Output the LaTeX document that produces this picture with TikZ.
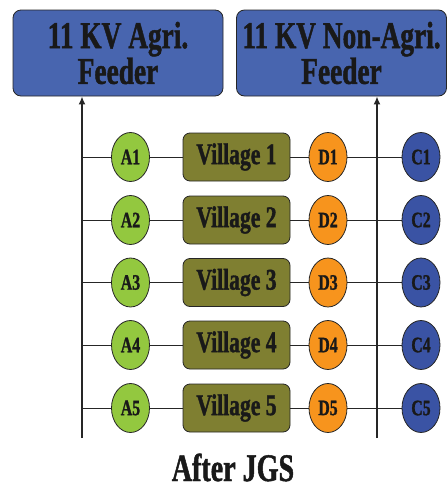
\documentclass[tikz,border=0pt]{standalone}
\usepackage{fontspec}
\setmainfont{Liberation Serif}[FakeStretch=0.72, BoldFeatures={FakeBold=1.2}]
\usetikzlibrary{shapes.geometric,arrows.meta}
\definecolor{feederblue}{RGB}{72,101,175}
\definecolor{cblue}{RGB}{58,83,164}
\definecolor{agreen}{RGB}{147,200,63}
\definecolor{dorange}{RGB}{247,148,29}
\definecolor{volive}{RGB}{127,127,49}
\tikzset{
  feeder/.style={draw=black!85, line width=0.8pt, fill=feederblue, rounded corners=8pt,
    minimum width=210pt, minimum height=86pt, inner sep=0pt, align=center,
    font=\bfseries\fontsize{38}{33}\selectfont, text=black!90},
  village/.style={draw=black!85, line width=0.8pt, fill=volive, rounded corners=7pt,
    minimum width=107pt, minimum height=48pt, inner sep=0pt,
    font=\bfseries\fontsize{30}{30}\selectfont, text=black!90},
  oval/.style={ellipse, draw=black!85, line width=0.8pt, minimum width=38pt, minimum height=49pt,
    inner sep=0pt, font=\bfseries\fontsize{22}{22}\selectfont, text=black!90},
  wire/.style={draw=black!85, line width=1pt},
  bus/.style={draw=black!85, line width=1.5pt}
}
\begin{document}
\begin{tikzpicture}[x=1pt,y=-1pt]
\useasboundingbox (0,0) rectangle (447,493);
\node[feeder] (agri) at (118,53) {11 KV Agri.\\Feeder};
\node[feeder] (nonagri) at (341.5,53) {11 KV Non-Agri.\\Feeder};
\coordinate (lb) at (82,438);
\coordinate (rb) at (377,438);
\draw[bus,-{Latex[length=8pt,width=7pt]}] (lb) -- (agri.south -| lb);
\draw[bus,-{Latex[length=8pt,width=7pt]}] (rb) -- (nonagri.south -| rb);
\foreach \i/\y in {1/157,2/220,3/282.5,4/345,5/408}{
  \node[oval, fill=agreen] (A\i) at (130.5,\y) {A\i};
  \node[village] (V\i) at (236.5,\y) {Village \i};
  \node[oval, fill=dorange] (D\i) at (328,\y) {D\i};
  \node[oval, fill=cblue] (C\i) at (421,\y) {C\i};
  \coordinate (L\i) at (82,\y);
  \draw[wire] (L\i) -- (A\i) (A\i) -- (V\i) (V\i) -- (D\i) (D\i) -- (C\i);
}
\node[anchor=base, inner sep=0pt, font=\bfseries\fontsize{39}{39}\selectfont, text=black!90] (title) at (233,481) {After JGS};
\end{tikzpicture}
\end{document}
